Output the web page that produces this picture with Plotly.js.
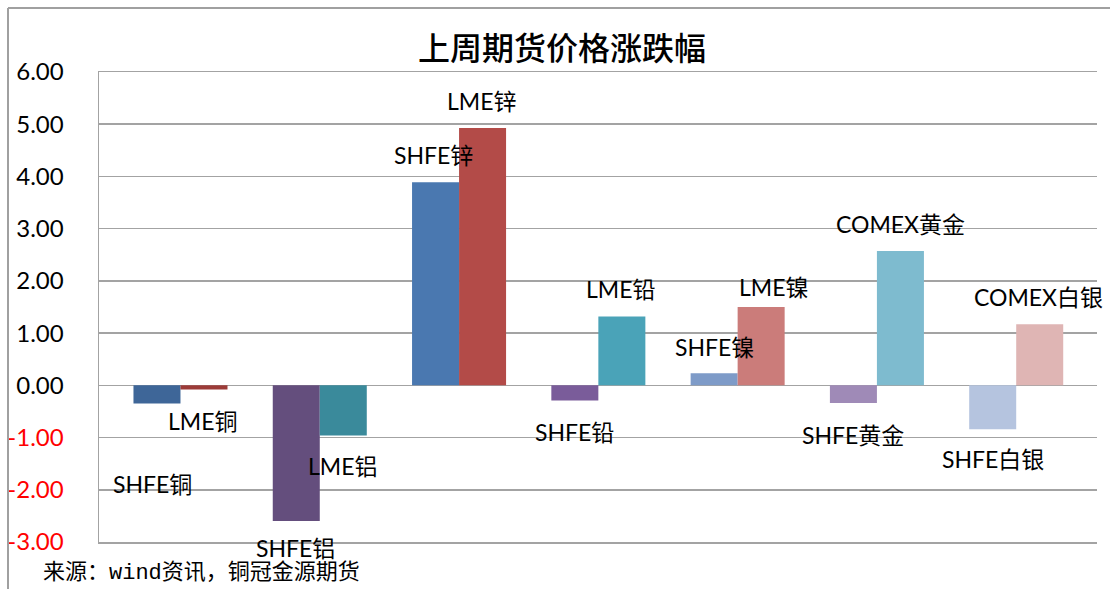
<!DOCTYPE html>
<html>
<head>
<meta charset="utf-8">
<script src="https://cdn.plot.ly/plotly-3.0.1.min.js"></script>
<style>
  html, body { margin: 0; padding: 0; background: #fff; }
  #chart { width: 1110px; height: 589px; }
</style>
</head>
<body>
<div id="chart"></div>
<script>
// ---- data ----
const metals = ['铜', '铝', '锌', '铅', '镍', '黄金', '白银'];
const shfeNames = ['SHFE铜', 'SHFE铝', 'SHFE锌', 'SHFE铅', 'SHFE镍', 'SHFE黄金', 'SHFE白银'];
const foreignNames = ['LME铜', 'LME铝', 'LME锌', 'LME铅', 'LME镍', 'COMEX黄金', 'COMEX白银'];
const shfeValues = [-0.35, -2.60, 3.89, -0.29, 0.23, -0.34, -0.84];
const foreignValues = [-0.08, -0.96, 4.93, 1.32, 1.50, 2.57, 1.17];
const tickValues = [6, 5, 4, 3, 2, 1, 0, -1, -2, -3];
const tickLabels = ['6.00', '5.00', '4.00', '3.00', '2.00', '1.00', '0.00', '-1.00', '-2.00', '-3.00'];

// ---- styles ----
const shfeColors = ['#3E6698', '#644E7D', '#4A78B0', '#7A5C9A', '#7E9BC8', '#9F8AB7', '#B5C4DF'];
const foreignColors = ['#9C3B38', '#3A8A9B', '#B34B48', '#4AA3B8', '#CB7C7A', '#7EBBCF', '#DFB5B4'];
// label pixel offsets [dx, dy] from bar end (dy positive = downward)
const shfeLabelShift = [[-4, 80], [-1, 27], [-2, -27], [0, 32], [0, -26], [0, 32], [0, 30]];
const foreignLabelShift = [[-1, 31], [-1, 31], [-1, -27], [-1, -27], [12, -20], [0, -27], [-1, -27]];

const FONT = 'Lato, "Noto Sans CJK SC", sans-serif';
const GRID = '#A3A3A3';
const bargap = 0.325;
const barW = (1 - bargap) / 2;
const idx = metals.map((m, i) => i);

const traces = [
  { type: 'bar', x: idx, y: shfeValues, name: 'SHFE', marker: { color: shfeColors }, hoverinfo: 'skip' },
  { type: 'bar', x: idx, y: foreignValues, name: 'LME/COMEX', marker: { color: foreignColors }, hoverinfo: 'skip' }
];

const annotations = [];
function addLabels(names, values, shifts, off) {
  names.forEach((n, i) => {
    annotations.push({
      x: i + off, y: values[i], xref: 'x', yref: 'y',
      text: n, showarrow: false, xanchor: 'center', yanchor: 'middle',
      xshift: shifts[i][0], yshift: -shifts[i][1], borderpad: 0,
      font: { family: FONT, size: 23, color: '#000' }
    });
  });
}
addLabels(shfeNames, shfeValues, shfeLabelShift, -barW / 2);
addLabels(foreignNames, foreignValues, foreignLabelShift, barW / 2);

annotations.push({
  xref: 'paper', yref: 'paper', x: 0, y: 0, xanchor: 'left', yanchor: 'middle',
  xshift: -57, yshift: -31, showarrow: false, borderpad: 0,
  text: '来源：wind资讯，铜冠金源期货',
  font: { family: '"Liberation Mono", "Noto Sans CJK SC", monospace', size: 22, color: '#000' }
});

const tickText = tickLabels.map((t, i) => tickValues[i] < 0 ? '<span style="color:#FF0000">' + t + '</span>' : t);

const layout = {
  width: 1110, height: 589,
  margin: { l: 99, r: 13, t: 72, b: 47 },
  paper_bgcolor: '#fff', plot_bgcolor: '#fff',
  showlegend: false,
  barmode: 'group', bargap: bargap, bargroupgap: 0,
  title: {
    text: '上周期货价格涨跌幅',
    font: { family: '"Noto Sans CJK SC", sans-serif', size: 32, color: '#000', weight: 500 },
    x: 562 / 1110, xanchor: 'center', y: 1 - 49 / 589, yanchor: 'middle', xref: 'container', yref: 'container'
  },
  xaxis: {
    range: [-0.585, 6.58], showticklabels: false, ticks: '',
    showgrid: false, zeroline: false,
    showline: true, mirror: true, linecolor: GRID, linewidth: 1.5
  },
  yaxis: {
    range: [-3, 6], tickvals: tickValues, ticktext: tickText,
    tickfont: { family: FONT, size: 24, color: '#000' },
    ticks: '', ticklabelstandoff: 29,
    showgrid: true, gridcolor: GRID, gridwidth: 1.5,
    zeroline: true, zerolinecolor: GRID, zerolinewidth: 1.5,
    showline: true, linecolor: GRID, linewidth: 1.5
  },
  annotations: annotations,
  shapes: [
    { type: 'line', xref: 'paper', yref: 'paper', x0: (8 - 99) / 998, x1: (8 - 99) / 998, y0: (542 - 8) / 470, y1: (542 - 600) / 470, line: { color: '#A0A0A0', width: 2 } },
    { type: 'line', xref: 'paper', yref: 'paper', x0: (8 - 99) / 998, x1: (1120 - 99) / 998, y0: (542 - 8) / 470, y1: (542 - 8) / 470, line: { color: '#A0A0A0', width: 2 } }
  ]
};

Plotly.newPlot('chart', traces, layout, { displayModeBar: false, staticPlot: true });
</script>
</body>
</html>
